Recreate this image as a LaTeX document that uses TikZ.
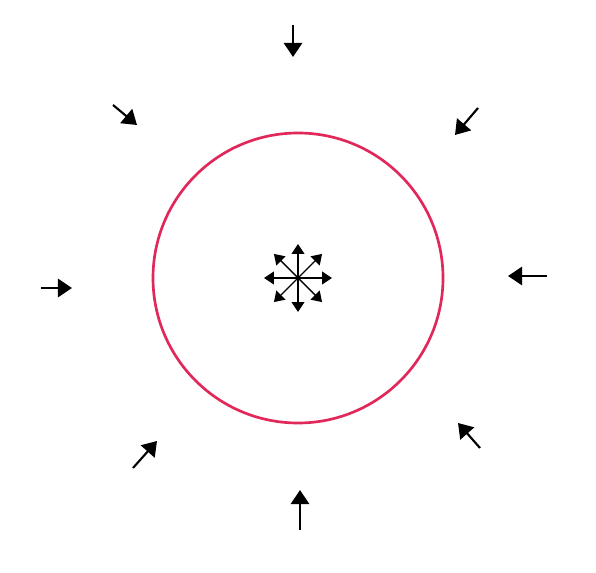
\documentclass[tikz,border=0pt]{standalone}
\usepackage{xcolor}
\usepackage{tikz}
\usetikzlibrary{arrows.meta}
\definecolor{ringred}{HTML}{E0285A}

\tikzset{
  inarrow/.style={line width=1.5pt,-{Triangle[length=10pt,width=13pt]}},
  outarrow/.style={line width=1pt,-{Triangle[length=7pt,width=9pt]}}
}

\begin{document}
\begin{tikzpicture}[x=0.025cm,y=0.025cm]
  \useasboundingbox (0,0) rectangle (596,572);
  \coordinate (centre) at (298,294);
  % the ring
  \draw[ringred,line width=1.9pt] (centre) circle (145);
  % arrows coming in from outside
  \foreach \tx/\ty/\hx/\hy in {293/547/293/515, 113/467/137/447, 41/284/72/284,
      547/296/508/296, 133/104/157/131, 300/42/300/82, 480/124/458/149, 478/464/455/437}
    \draw[inarrow] (\tx,\ty) -- (\hx,\hy);
  % little arrows going out from the centre
  \foreach \a in {0,45,...,315}
    \draw[outarrow] (centre) -- ++(\a+90:34);
\end{tikzpicture}
\end{document}
